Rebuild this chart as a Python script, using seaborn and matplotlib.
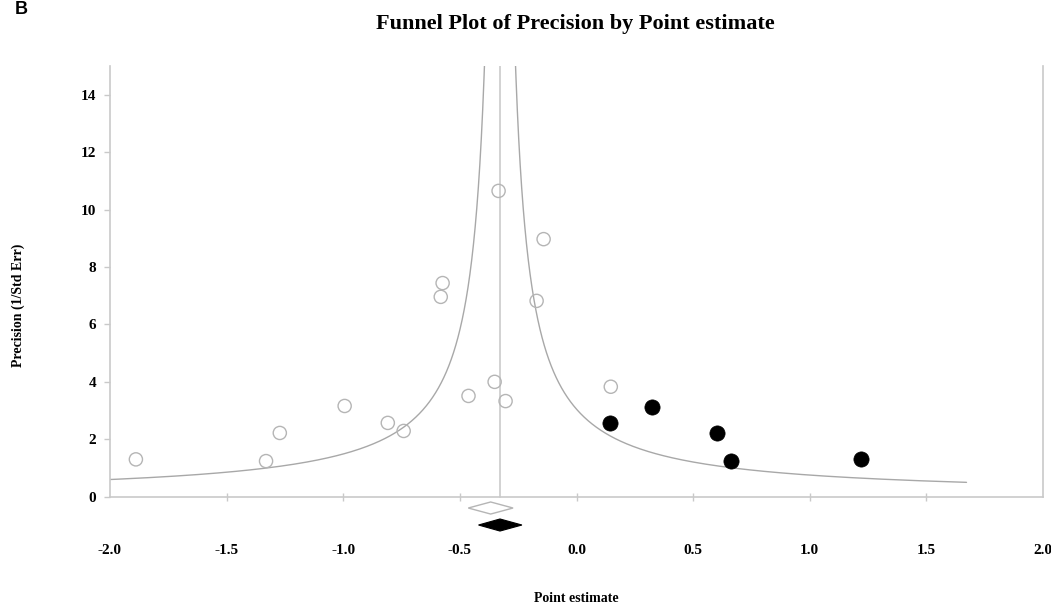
import numpy as np
import pandas as pd
import matplotlib
matplotlib.use("Agg")
import matplotlib.pyplot as plt
import seaborn as sns

# ---------------- data ----------------
observed_x = [-1.889, -1.331, -1.272, -0.994, -0.809, -0.741, -0.582, -0.574,
              -0.463, -0.351, -0.334, -0.304, -0.171, -0.141, 0.147]
observed_y = [1.30, 1.24, 2.22, 3.16, 2.57, 2.29, 6.96, 7.44,
              3.51, 4.00, 10.65, 3.33, 6.82, 8.97, 3.83]
imputed_x = [0.143, 0.322, 0.603, 0.662, 1.221]
imputed_y = [2.58, 3.14, 2.21, 1.24, 1.31]

observed_est, observed_lo, observed_hi = -0.368, -0.464, -0.272
adjusted_est, adjusted_lo, adjusted_hi = -0.328, -0.420, -0.234
funnel_k = 1.0

x_ticks = [-2.0, -1.5, -1.0, -0.5, 0.0, 0.5, 1.0, 1.5, 2.0]
x_ticklabels = ["-2.0", "-1.5", "-1.0", "-0.5", "0.0", "0.5", "1.0", "1.5", "2.0"]
y_ticks = [0, 2, 4, 6, 8, 10, 12, 14]
y_ticklabels = ["0", "2", "4", "6", "8", "10", "12", "14"]

title = "Funnel Plot of Precision by Point estimate"
xlabel = "Point estimate"
ylabel = "Precision (1/Std Err)"

# ---------------- style ----------------
sns.set_theme(style="white")
plt.rcParams["font.family"] = ["Liberation Serif", "DejaVu Serif"]
plt.rcParams["axes.unicode_minus"] = False
plt.rcParams["text.color"] = "black"
plt.rcParams["axes.labelcolor"] = "black"
plt.rcParams["xtick.labelcolor"] = "black"
plt.rcParams["ytick.labelcolor"] = "black"

W, H = 1051, 607
fig = plt.figure(figsize=(W / 100, H / 100), dpi=100)
ax = fig.add_axes([110 / W, 1 - 536.9 / H, (1043 - 110) / W, (536.9 - 66) / H])

df = pd.DataFrame({
    "x": observed_x + imputed_x,
    "y": observed_y + imputed_y,
    "kind": ["observed"] * len(observed_x) + ["imputed"] * len(imputed_x),
})

spine_col = "#c9c9c9"

# funnel
ys = np.linspace(0.5, 15, 800)
ax.plot(adjusted_est - funnel_k / ys, ys, color="#a8a8a8", lw=1.0, zorder=2)
ax.plot(adjusted_est + funnel_k / ys, ys, color="#a8a8a8", lw=1.0, zorder=2)
ax.plot([adjusted_est, adjusted_est], [0, 15], color="#cfcfcf", lw=1.3, zorder=2)

sns.scatterplot(data=df[df.kind == "observed"], x="x", y="y", ax=ax,
                marker="o", s=90, facecolor="none", edgecolor="#b5b5b5",
                linewidth=1.0, zorder=3, legend=False)
sns.scatterplot(data=df[df.kind == "imputed"], x="x", y="y", ax=ax,
                marker="o", s=120, color="black", edgecolor="black",
                linewidth=0.5, zorder=4, legend=False)

# summary diamonds
yo, yf, hh = -0.394, -0.986, 0.21
ax.fill([observed_lo, observed_est, observed_hi, observed_est],
        [yo, yo + hh, yo, yo - hh], facecolor="white", edgecolor="#b5b5b5",
        lw=1.0, clip_on=False, zorder=3)
ax.fill([adjusted_lo, adjusted_est, adjusted_hi, adjusted_est],
        [yf, yf + hh, yf, yf - hh], facecolor="black", edgecolor="black",
        lw=0.8, clip_on=False, zorder=3)

ax.set_xlim(-2.0, 2.0)
ax.set_ylim(-1.4, 15)

# spines
ax.spines["top"].set_visible(False)
for s in ["left", "right", "bottom"]:
    ax.spines[s].set_color(spine_col)
    ax.spines[s].set_linewidth(1.2)
ax.spines["bottom"].set_position(("data", 0))
ax.spines["left"].set_bounds(0, 15)
ax.spines["right"].set_bounds(0, 15)

ax.set_xticks(x_ticks)
ax.set_xticklabels(x_ticklabels, fontsize=11, fontweight="bold", color="black")
ax.set_yticks(y_ticks)
ax.set_yticklabels(y_ticklabels, fontsize=11, fontweight="bold", color="black")
ax.tick_params(axis="x", bottom=True, direction="inout", length=6, width=1,
               color=spine_col, labelcolor="black", pad=31)
ax.tick_params(axis="y", left=True, direction="out", length=4, width=1,
               color=spine_col, labelcolor="black", pad=6)
for t in ax.xaxis.get_major_ticks():
    if abs(t.get_loc()) >= 2.0:
        t.tick1line.set_visible(False)

ax.set_xlabel(xlabel, fontsize=10, fontweight="bold", color="black")
ax.xaxis.set_label_coords(0.5, -0.117)
ax.set_ylabel(ylabel, fontsize=10, fontweight="bold", color="black")
ax.yaxis.set_label_coords(-0.091, 0.4925)

fig.text(575 / W, 1 - 24 / H, title, ha="center", va="center",
         fontsize=16, fontweight="bold", color="black")
fig.text(15 / W, 1 - 1 / H, "B", ha="left", va="top", fontsize=13,
         fontweight="bold", color="black", family=["Liberation Sans", "DejaVu Sans"])

fig.savefig("out.png", dpi=100, facecolor="white")
